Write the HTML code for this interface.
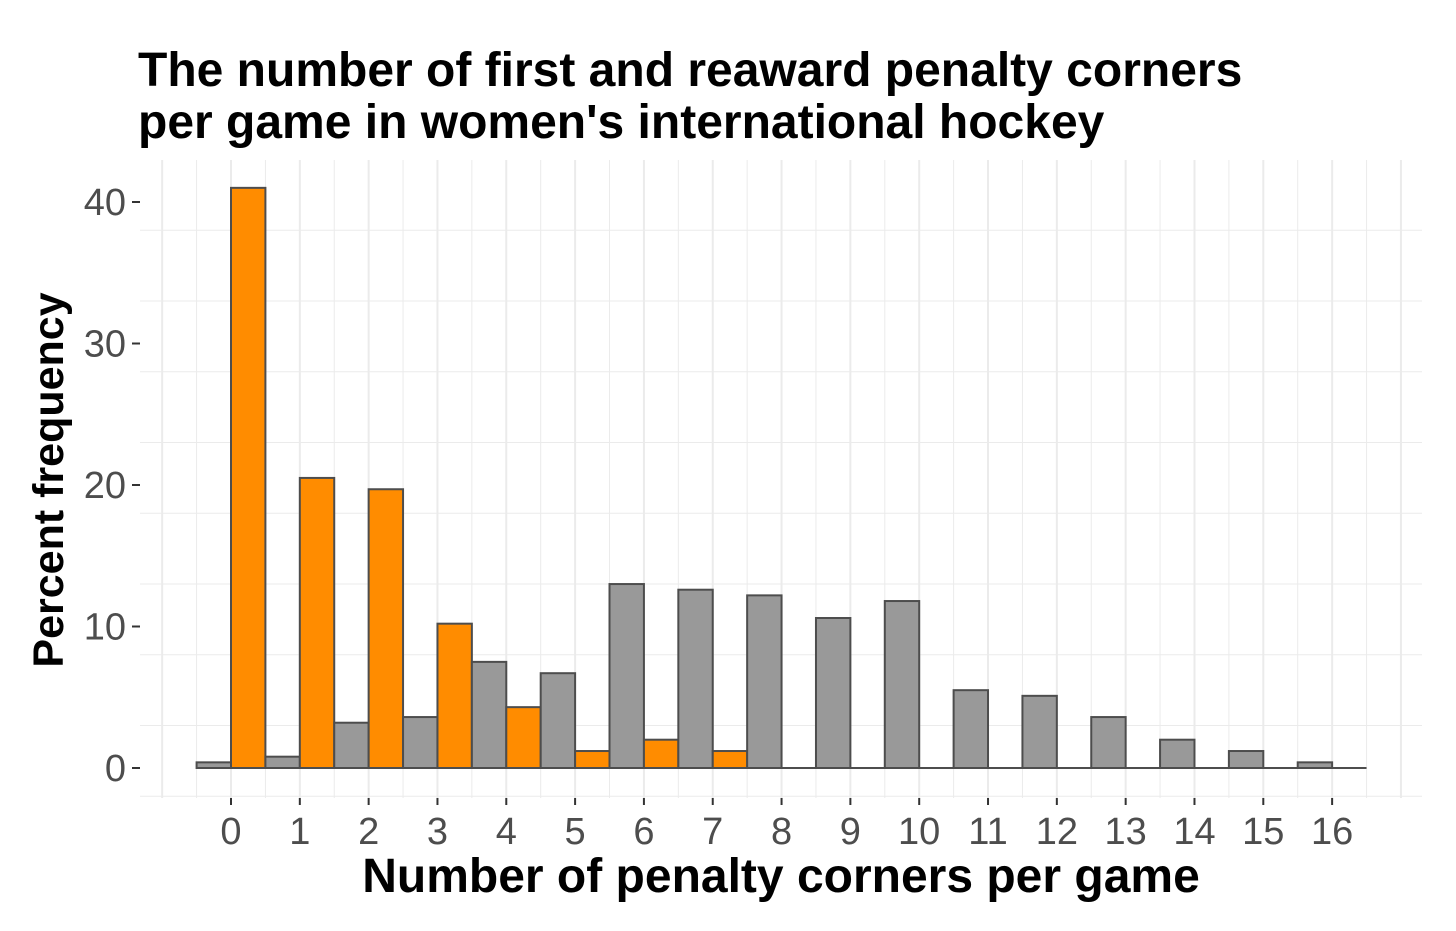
<!DOCTYPE html>
<html><head><meta charset="utf-8"><style>
body{margin:0;background:#fff;}
svg{display:block;font-family:"Liberation Sans",Arial,sans-serif;}
</style></head><body>
<svg id="chart" width="1456" height="931" viewBox="0 0 1456 931">
<rect x="0" y="0" width="1456" height="931" fill="#fff"/>
<g id="grid"></g>
<g id="bars"></g>
<g id="axes"></g>
<text x="138" y="86" font-size="48" font-weight="bold" fill="#000">The number of first and reaward penalty corners</text>
<text x="138" y="138" font-size="48" font-weight="bold" fill="#000">per game in women's international hockey</text>
<text x="781" y="892" font-size="48" font-weight="bold" text-anchor="middle" fill="#000">Number of penalty corners per game</text>
<text transform="translate(63,480) rotate(-90)" font-size="43" font-weight="bold" text-anchor="middle" fill="#000">Percent frequency</text>
</svg>
<script>
const categories=[0,1,2,3,4,5,6,7,8,9,10,11,12,13,14,15,16];
const greyValues=[0.4,0.8,3.2,3.6,7.5,6.7,13.0,12.6,12.2,10.6,11.8,5.5,5.1,3.6,2.0,1.2,0.4];
const orangeValues=[41,20.5,19.7,10.2,4.3,1.2,2.0,1.2,0,0,0,0,0,0,0,0,0];
const yTicks=[0,10,20,30,40];
const NS="http://www.w3.org/2000/svg";
const xs=v=>231+v*68.82;
const ys=v=>768-v*14.15;
const pL=140,pR=1422,pT=160,pB=798;
function mk(tag,attrs,parent){const e=document.createElementNS(NS,tag);for(const k in attrs)e.setAttribute(k,attrs[k]);parent.appendChild(e);return e;}
const grid=document.getElementById('grid'),bars=document.getElementById('bars'),axes=document.getElementById('axes');
for(let v=-1;v<=17.01;v+=0.5){const x=xs(v);if(x<pL||x>pR)continue;
 const l=mk('line',{x1:x,x2:x,y1:pT,y2:pB,stroke:'#ebebeb','stroke-width':Number.isInteger(v)?2:1},grid);
 
 }
for(let v=-2;v<=47;v+=5){const y=ys(v);if(y<pT||y>pB)continue;
 const l=mk('line',{x1:pL,x2:pR,y1:y,y2:y,stroke:'#ebebeb','stroke-width':v%10===0?2:1},grid);
 
 }
const bw=xs(0.5)-xs(0);
categories.forEach((c,i)=>{
 const g=greyValues[i],o=orangeValues[i];
 const r1=mk('rect',{x:xs(c)-bw,y:ys(g),width:bw,height:ys(0)-ys(g),fill:'#999999',stroke:'#4d4d4d','stroke-width':2},bars);
 
 
 const r2=mk('rect',{x:xs(c),y:ys(o),width:bw,height:ys(0)-ys(o),fill:'#ff8c00',stroke:'#4d4d4d','stroke-width':2},bars);
 
 
 const t=mk('text',{x:xs(c),y:844,'font-size':38,'text-anchor':'middle',fill:'#4d4d4d'},axes);
 t.textContent=c;
 
 
 const tk=mk('line',{x1:xs(c),x2:xs(c),y1:pB,y2:pB+7,stroke:'#333','stroke-width':2},axes);
 
 
});
const base=mk('line',{x1:xs(categories[0])-bw,x2:xs(categories[categories.length-1])+bw,y1:ys(0),y2:ys(0),stroke:'#4d4d4d','stroke-width':2},bars);


yTicks.forEach(v=>{
 const t=mk('text',{x:126,y:ys(v)+13,'font-size':38,'text-anchor':'end',fill:'#4d4d4d'},axes);
 t.textContent=v;
 
 
 const tk=mk('line',{x1:pL-8,x2:pL,y1:ys(v),y2:ys(v),stroke:'#333','stroke-width':2},axes);
 
 
});
</script>
</body></html>
